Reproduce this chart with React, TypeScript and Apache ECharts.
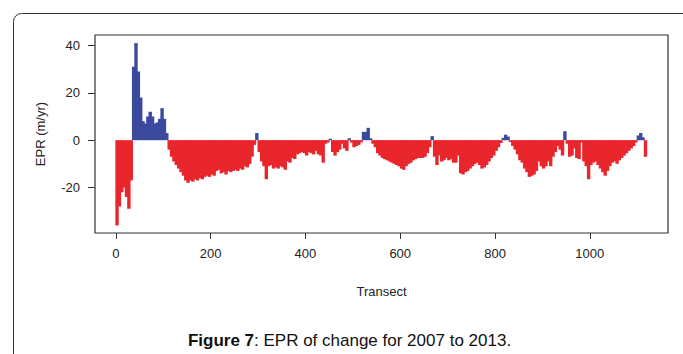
import React, { useEffect, useRef } from "react";
import * as echarts from "echarts";

// EPR (m/yr) per block of 5 transects
const EPR: number[] = [
  -36, -28, -22, -20, -24, -29, -17, 31, 41, 29,
  18, 8, 7, 10, 12, 10, 7, 7.5, 9, 13.5,
  9, 3, -4, -7, -9, -10.5, -12, -13.5, -15, -17,
  -18, -17, -17.5, -16.5, -17, -16, -16.5, -15.5, -15, -15.5,
  -14.5, -15, -13, -12.5, -14, -13.5, -14.5, -13, -13.5, -13,
  -12.5, -13, -12, -12.5, -11, -11.5, -10, -7, -2, 3,
  -5, -9, -11, -16.5, -11, -10.5, -12, -11.5, -12, -11,
  -11.5, -12.5, -9, -9.5, -7.5, -8, -6, -5.5, -5, -5.5,
  -6.5, -5, -5.5, -6, -4.5, -6, -6.5, -9.5, -1.5, -1,
  0.6, -5, -6.5, -5, -4, -1.5, -3.5, -4.5, 0.8, -1,
  -3, -2.5, -2, -1, 3.5, 3.5, 5.2, 0.8, -1.5, -3,
  -5.5, -6.5, -7.5, -8, -8.5, -9, -9.5, -10, -10.5, -11,
  -12, -12.5, -11, -10, -9.5, -8.5, -8, -7.5, -7.5, -7.5,
  -7, -5.5, -3, 1.7, -7, -10.5, -6.5, -9, -8.5, -7.5,
  -8.5, -8, -9.5, -9.5, -6.5, -14, -14.5, -13.5, -13, -12,
  -11, -10, -9.5, -10.5, -12, -11.5, -10.5, -9, -7.5, -6.5,
  -4.5, -3, -1.2, 1, 2.3, 1.5, -0.8, -2.5, -4, -6,
  -8.5, -9.5, -12, -13.5, -15.5, -15, -14.5, -13, -9, -11,
  -12, -11, -9, -11, -7, -5, -2.5, -4, -6.5, 3.8,
  -1.5, -7, -6.5, -3.5, -7.5, -8, -1, -9, -11, -16.5,
  -10.5, -9.5, -9, -10.5, -12, -13.5, -15, -13, -11, -9.5,
  -9, -10, -8.5, -7.5, -6.5, -5.5, -4.5, -3.5, -2.5, -1,
  2, 3, 1.2, -7,
];
const TRANSECT_STEP = 5;
const X_TICKS = [0, 200, 400, 600, 800, 1000];
const Y_TICKS = [-20, 0, 20, 40];

const RED = "#E8262B";
const BLUE = "#3B4A9C";
const FONT = "'Liberation Sans', Arial, Helvetica, sans-serif";

export default function App() {
  const ref = useRef<HTMLDivElement>(null);

  useEffect(() => {
    if (!ref.current) return;
    const chart = echarts.init(ref.current, undefined, { renderer: "svg" });
    const data = EPR.map((v, i) => [i * TRANSECT_STEP + TRANSECT_STEP / 2, v]);
    chart.setOption({
      animation: false,
      backgroundColor: "#ffffff",
      grid: {
        left: 95,
        top: 35,
        width: 573,
        height: 198,
        show: true,
        borderColor: "#333",
        borderWidth: 1.2,
        backgroundColor: "transparent",
      },
      xAxis: {
        type: "value",
        min: -44,
        max: 1165,
        splitLine: { show: false },
        axisLine: { show: false, onZero: false },
        axisTick: {
          show: true,
          length: 6,
          customValues: X_TICKS,
          lineStyle: { color: "#333", width: 1 },
        },
        axisLabel: {
          customValues: X_TICKS,
          formatter: (v: number) => String(v),
          margin: 14,
          fontSize: 13,
          fontFamily: FONT,
          color: "#222",
        },
      },
      yAxis: {
        type: "value",
        min: -39.2,
        max: 44.4,
        splitLine: { show: false },
        axisLine: { show: false, onZero: false },
        axisTick: {
          show: true,
          length: 7,
          customValues: Y_TICKS,
          lineStyle: { color: "#333", width: 1 },
        },
        axisLabel: {
          customValues: Y_TICKS,
          formatter: (v: number) => String(v),
          margin: 15,
          fontSize: 13,
          fontFamily: FONT,
          color: "#222",
        },
      },
      series: [
        {
          type: "bar",
          data,
          barWidth: 3.4,
          itemStyle: {
            color: (p: any) => (p.value[1] >= 0 ? BLUE : RED),
          },
        },
      ],
      graphic: [
        {
          type: "rect",
          shape: { x: 13.5, y: 13.5, width: 720, height: 420, r: 8 },
          style: { fill: "none", stroke: "#333", lineWidth: 1 },
          silent: true,
        },
        {
          type: "text",
          x: 381.5,
          y: 291,
          style: {
            text: "Transect",
            fontSize: 13,
            fontFamily: FONT,
            fill: "#222",
            align: "center",
            verticalAlign: "middle",
          },
        },
        {
          type: "text",
          x: 40,
          y: 134,
          rotation: Math.PI / 2,
          style: {
            text: "EPR (m/yr)",
            fontSize: 13,
            fontFamily: FONT,
            fill: "#222",
            align: "center",
            verticalAlign: "middle",
          },
        },
        {
          type: "text",
          x: 349.5,
          y: 340,
          style: {
            text: "{b|Figure 7}: EPR of change for 2007 to 2013.",
            fontSize: 17,
            fontFamily: FONT,
            fill: "#111",
            align: "center",
            verticalAlign: "middle",
            rich: {
              b: { fontSize: 17, fontFamily: FONT, fontWeight: "bold", fill: "#111" },
            },
          },
        },
      ],
    });
    return () => chart.dispose();
  }, []);

  return (
    <div
      ref={ref}
      style={{ position: "fixed", left: 0, top: 0, width: 683, height: 354, background: "#fff" }}
    />
  );
}
